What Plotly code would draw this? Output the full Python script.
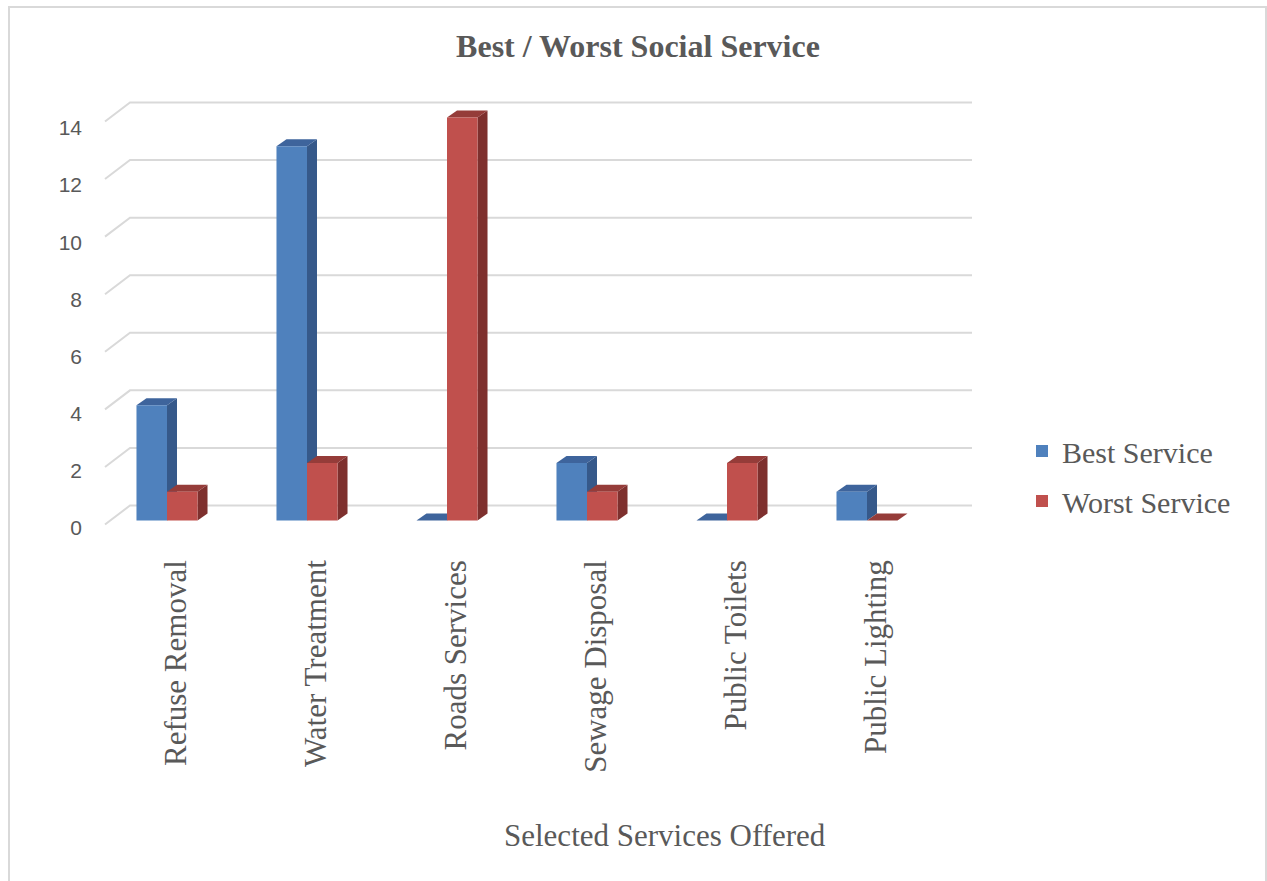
import plotly.graph_objects as go

# ---- data ----
categories = ["Refuse Removal", "Water Treatment", "Roads Services",
              "Sewage Disposal", "Public Toilets", "Public Lighting"]
best_service = [4, 13, 0, 2, 0, 1]
worst_service = [1, 2, 14, 1, 2, 0]
y_ticks = [0, 2, 4, 6, 8, 10, 12, 14]

# ---- geometry / style ----
W, H = 1267, 881
PLOT_L, PLOT_R = 97, 979          # pixel extents of plot area
PLOT_T, PLOT_B = 88, 531
XR = [-0.5, 5.8]
XS = (PLOT_R - PLOT_L) / (XR[1] - XR[0])   # px per x unit
YS = (520.5 - 117.5) / 14                   # px per y unit (bars)
Y0PX = 520.5
YR = [-(PLOT_B - Y0PX) / YS, (Y0PX - PLOT_T) / YS]

# label axis (tick labels sit slightly lower than bar plane)
LS = (528 - 128) / 14
L0PX = 528
YR2 = [-(PLOT_B - L0PX) / LS, (L0PX - PLOT_T) / LS]

BAR_W = 0.218
DEPTH_DX = 10 / XS
DEPTH_DY = 7 / YS
GRID_DX = 25 / XS
GRID_DY = 19 / YS
GRID_OFF = 4 / YS
GRID_X0 = (105 - PLOT_L) / XS + XR[0]
GRID_X1 = (972 - PLOT_L) / XS + XR[0]

BLUE, BLUE_SIDE, BLUE_TOP = "#4f81bd", "#36598a", "#3e649c"
RED, RED_SIDE, RED_TOP = "#c0504d", "#7e302e", "#953c39"
GRID = "#d9d9d9"
TXT = "#595959"
SERIF = "Liberation Serif, Times New Roman, serif"


def px2paper_x(px):
    return (px - PLOT_L) / (PLOT_R - PLOT_L)


def px2paper_y(py):
    return (PLOT_B - py) / (PLOT_B - PLOT_T)


xs = list(range(len(categories)))
fig = go.Figure()
fig.add_trace(go.Bar(x=xs, y=best_service, name="Best Service", width=BAR_W,
                     offset=-BAR_W, marker=dict(color=BLUE, line=dict(width=0)),
                     legendgroup="a"))
fig.add_trace(go.Bar(x=xs, y=worst_service, name="Worst Service", width=BAR_W,
                     offset=0, marker=dict(color=RED, line=dict(width=0)),
                     legendgroup="b"))
# invisible trace carrying the tick-label axis
fig.add_trace(go.Scatter(x=[xs[0]] * len(y_ticks), y=y_ticks, yaxis="y2",
                         mode="markers", marker=dict(opacity=0),
                         showlegend=False, hoverinfo="skip"))

shapes = []
# back-wall gridlines with perspective diagonal
for v in y_ticks:
    yf = v - GRID_OFF
    path = (f"M {GRID_X0},{yf} L {GRID_X0 + GRID_DX},{yf + GRID_DY} "
            f"L {GRID_X1},{yf + GRID_DY}")
    shapes.append(dict(type="path", xref="x", yref="y", path=path,
                       line=dict(color=GRID, width=2), layer="below"))

# pseudo-3D side & top faces of bars
for vals, off, side_c, top_c in [(best_service, -BAR_W, BLUE_SIDE, BLUE_TOP),
                                  (worst_service, 0, RED_SIDE, RED_TOP)]:
    for i, v in enumerate(vals):
        xl = i + off
        xr = xl + BAR_W
        if v > 0:
            side = (f"M {xr},0 L {xr},{v} L {xr + DEPTH_DX},{v + DEPTH_DY} "
                    f"L {xr + DEPTH_DX},{DEPTH_DY} Z")
            shapes.append(dict(type="path", xref="x", yref="y", path=side,
                               fillcolor=side_c, line=dict(width=0),
                               layer="below"))
        top = (f"M {xl},{v} L {xr},{v} L {xr + DEPTH_DX},{v + DEPTH_DY} "
               f"L {xl + DEPTH_DX},{v + DEPTH_DY} Z")
        shapes.append(dict(type="path", xref="x", yref="y", path=top,
                           fillcolor=top_c, line=dict(width=0), layer="below"))

# outer chart border
shapes.append(dict(type="rect", xref="paper", yref="paper",
                   x0=px2paper_x(9), x1=px2paper_x(1266),
                   y0=px2paper_y(890), y1=px2paper_y(7),
                   line=dict(color=GRID, width=2), fillcolor="rgba(0,0,0,0)",
                   layer="below"))

fig.update_layout(
    width=W, height=H,
    margin=dict(l=PLOT_L, r=W - PLOT_R, t=PLOT_T, b=H - PLOT_B, pad=0),
    paper_bgcolor="white", plot_bgcolor="white",
    shapes=shapes,
    title=dict(text="<b>Best / Worst Social Service</b>",
               x=638 / W, xanchor="center", xref="container",
               y=1 - 46 / H, yanchor="middle", yref="container",
               font=dict(family=SERIF, size=32, color=TXT)),
    xaxis=dict(range=XR, showgrid=False, zeroline=False, showline=False,
               tickmode="array", tickvals=[i + 0.065 for i in xs],
               ticktext=categories, tickangle=-90, ticks="",
               ticklabelstandoff=22,
               tickfont=dict(family=SERIF, size=31, color=TXT)),
    yaxis=dict(range=YR, showgrid=False, zeroline=False, showline=False,
               showticklabels=False, ticks=""),
    yaxis2=dict(range=YR2, overlaying="y", side="left", showgrid=False,
                zeroline=False, showline=False, tickmode="array",
                tickvals=y_ticks, ticks="", ticklabelstandoff=14,
                tickfont=dict(family="Liberation Sans, Arial, sans-serif",
                              size=21, color=TXT)),
    legend=dict(x=1022 / W, xref="container", xanchor="left",
                y=1 - 476 / H, yref="container", yanchor="middle",
                font=dict(family=SERIF, size=30, color=TXT),
                tracegroupgap=8, bgcolor="rgba(0,0,0,0)"),
    showlegend=True,
    annotations=[dict(text="Selected Services Offered", xref="paper",
                      yref="paper", x=px2paper_x(665), y=px2paper_y(835),
                      xanchor="center", yanchor="middle", showarrow=False,
                      font=dict(family=SERIF, size=31, color=TXT))],
)

fig.write_html("out.html")
